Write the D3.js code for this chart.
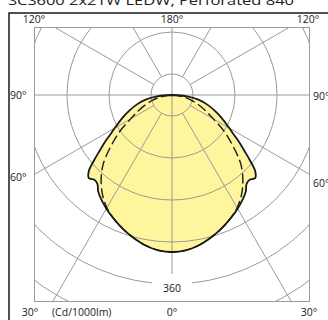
<!DOCTYPE html>
<html>
<head>
<meta charset="utf-8">
<script src="https://cdn.jsdelivr.net/npm/d3@7"></script>
<style>
  html, body { margin: 0; padding: 0; background: #fff; overflow: hidden; }
  svg { display: block; font-family: "Open Sans", "Noto Sans", sans-serif; }
</style>
</head>
<body>
<div id="chart"></div>
<script>
//Datos de la curva fotométrica (cd/1000lm), ángulo gamma desde la vertical inferior
const solidAngles = [0, 5, 10, 15, 20, 25, 30, 35, 37.5, 40, 42.5, 45, 47.5, 50, 52.5, 55, 57.5, 60, 65, 70, 75, 80, 85, 90];
const solidValues = [299, 297, 291, 282, 272, 261, 250, 238, 231, 221, 219, 224, 215, 194, 173, 156, 139, 126, 105, 86, 69, 51, 29, 0];

const dashedAngles = [0, 5, 10, 15, 20, 25, 30, 35, 40, 45, 50, 55, 60, 65, 70, 75, 80, 85, 90];
const dashedValues = [299, 297, 291, 282, 272, 261, 248, 231, 210, 185, 152, 122, 91, 70, 53, 38, 23, 10, 0];

//Rejilla
const ringValues = [40, 120, 200, 280, 360, 440];
const spokeAngles = [30, 60, 120, 150];
const scaleLabel = '360';
const scaleMax = 360;

//Textos
const titleText = 'SCS600 2x21W LEDW, Perforated 840';
const topLabels = ['120°', '180°', '120°'];
const sideLabels = ['90°', '60°'];
const bottomLabels = ['30°', '0°', '30°'];
const unitLabel = '(Cd/1000lm)';

const COLOR_FILL = '#FFF59C',
  COLOR_GRID = '#9a9a9a',
  COLOR_LINE = '#1a1a1a',
  COLOR_TEXT = '#222';

const width = 328, height = 320;
const frame = {x0: 34, y0: 27, x1: 310, y1: 302};
const cx = 172, cy = 95;

let svg = d3.select('#chart')
  .append('svg')
    .attr('width', width)
    .attr('height', height);

//Escala radial
let r = d3.scaleLinear()
  .domain([0, scaleMax])
  .range([0, 189]);

svg.append('clipPath')
  .attr('id', 'clip')
  .append('rect')
    .attr('x', frame.x0)
    .attr('y', frame.y0)
    .attr('width', frame.x1 - frame.x0)
    .attr('height', frame.y1 - frame.y0);

//gamma -> ángulo de d3.lineRadial (lado derecho e izquierdo)
function buildPoints(angles, values) {
  let right = angles.map(function(a, i) { return {a: Math.PI - a * Math.PI / 180, v: values[i]}; }).reverse();
  let left = angles.slice(1).map(function(a, i) { return {a: Math.PI + a * Math.PI / 180, v: values[i + 1]}; });
  return right.concat(left);
}

let radial = d3.lineRadial()
  .angle(function(d) { return d.a; })
  .radius(function(d) { return r(d.v); })
  .curve(d3.curveCatmullRom.alpha(0.5));

let plot = svg.append('g')
  .attr('clip-path', 'url(#clip)');

let center = plot.append('g')
  .attr('transform', 'translate(' + cx + ',' + cy + ')');

//Relleno
center.append('path')
  .attr('d', radial(buildPoints(solidAngles, solidValues)) + 'Z')
  .attr('fill', COLOR_FILL)
  .attr('stroke', 'none');

//Anillos
center.selectAll('.ring')
  .data(ringValues)
  .enter()
  .append('circle')
  .attr('class', 'ring')
  .attr('r', function(d) { return r(d); })
  .attr('fill', 'none')
  .attr('stroke', COLOR_GRID)
  .attr('stroke-width', 1);

//Radios
let spokes = [];
spokeAngles.forEach(function(a) { spokes.push({a: a, s: 1}); spokes.push({a: a, s: -1}); });
center.selectAll('.spoke')
  .data(spokes)
  .enter()
  .append('line')
  .attr('class', 'spoke')
  .attr('x1', function(d) { return d.s * r(ringValues[0]) * Math.sin(d.a * Math.PI / 180); })
  .attr('y1', function(d) { return r(ringValues[0]) * Math.cos(d.a * Math.PI / 180); })
  .attr('x2', function(d) { return d.s * 600 * Math.sin(d.a * Math.PI / 180); })
  .attr('y2', function(d) { return 600 * Math.cos(d.a * Math.PI / 180); })
  .attr('stroke', COLOR_GRID)
  .attr('stroke-width', 1);

center.append('line')
  .attr('x1', -400).attr('x2', 400).attr('y1', 0).attr('y2', 0)
  .attr('stroke', COLOR_GRID);
center.append('line')
  .attr('x1', 0).attr('x2', 0).attr('y1', -400).attr('y2', 400)
  .attr('stroke', COLOR_GRID);

//Etiqueta de escala
center.append('rect')
  .attr('x', -20)
  .attr('y', r(scaleMax) - 10)
  .attr('width', 40)
  .attr('height', frame.y1 - cy - r(scaleMax) + 9)
  .attr('fill', '#fff');
center.append('text')
  .attr('x', 0)
  .attr('y', r(scaleMax) + 8)
  .attr('text-anchor', 'middle')
  .attr('font-size', '10.5px')
  .attr('fill', COLOR_TEXT)
  .text(scaleLabel);

//Curvas
center.append('path')
  .attr('d', radial(buildPoints(dashedAngles, dashedValues)))
  .attr('fill', 'none')
  .attr('stroke', COLOR_LINE)
  .attr('stroke-width', 1.4)
  .attr('stroke-dasharray', '10,4');

center.append('path')
  .attr('d', radial(buildPoints(solidAngles, solidValues)) + 'Z')
  .attr('fill', 'none')
  .attr('stroke', COLOR_LINE)
  .attr('stroke-width', 1.8)
  .attr('stroke-linejoin', 'round');

//Marcos
svg.append('rect')
  .attr('x', frame.x0 + 0.5)
  .attr('y', frame.y0 + 0.5)
  .attr('width', frame.x1 - frame.x0 - 1)
  .attr('height', frame.y1 - frame.y0 - 1)
  .attr('fill', 'none')
  .attr('stroke', COLOR_GRID);

svg.append('rect')
  .attr('x', 9)
  .attr('y', 13)
  .attr('width', 340)
  .attr('height', 340)
  .attr('fill', 'none')
  .attr('stroke', COLOR_LINE)
  .attr('stroke-width', 1.5);

//Título (cortado arriba, como en el original)
svg.append('text')
  .attr('x', 8)
  .attr('y', 5)
  .attr('font-size', '13px')
  .attr('fill', COLOR_TEXT)
  .attr('textLength', 286)
  .attr('lengthAdjust', 'spacingAndGlyphs')
  .text(titleText);

let labels = svg.append('g')
  .attr('font-size', '10.5px')
  .attr('fill', COLOR_TEXT);

//Arriba
[frame.x0, cx, frame.x1 - 2].forEach(function(x, i) {
  labels.append('text')
    .attr('x', x)
    .attr('y', 23)
    .attr('text-anchor', 'middle')
    .text(topLabels[i]);
});

//Laterales
labels.append('text').attr('x', 10).attr('y', cy + 4).text(sideLabels[0]);
labels.append('text').attr('x', 10).attr('y', 181).text(sideLabels[1]);
labels.append('text').attr('x', frame.x1 + 3).attr('y', cy + 5).text(sideLabels[0]);
labels.append('text').attr('x', frame.x1 + 3).attr('y', 187).text(sideLabels[1]);

//Abajo
[frame.x0 - 4, cx, frame.x1 - 1].forEach(function(x, i) {
  labels.append('text')
    .attr('x', x)
    .attr('y', 316)
    .attr('text-anchor', 'middle')
    .text(bottomLabels[i]);
});
labels.append('text')
  .attr('x', 52)
  .attr('y', 316)
  .text(unitLabel);
</script>
</body>
</html>
